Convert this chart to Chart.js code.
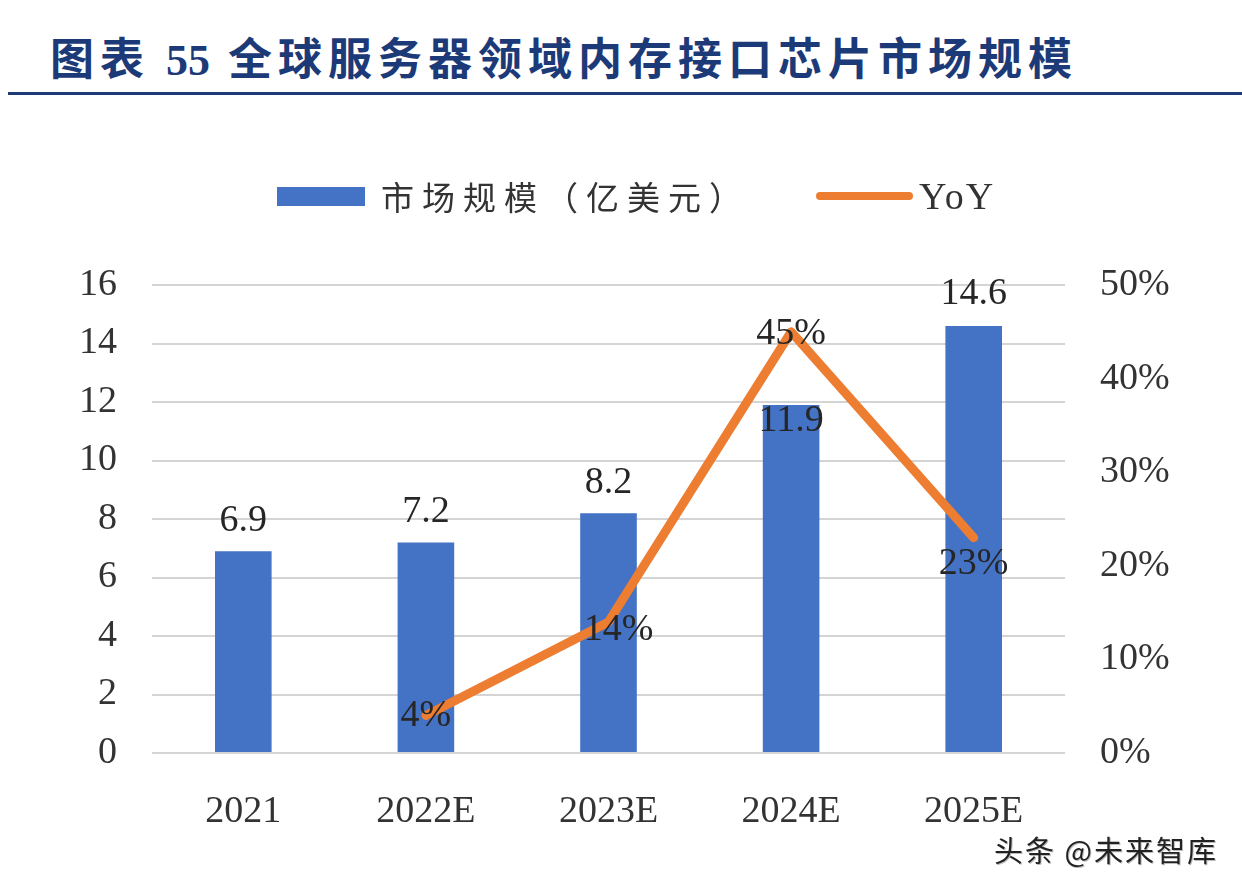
<!DOCTYPE html>
<html>
<head>
<meta charset="utf-8">
<script src="https://cdn.jsdelivr.net/npm/chart.js@4"></script>
<style>
  html, body { margin: 0; padding: 0; background: #fff; }
  body { width: 1242px; height: 888px; position: relative; overflow: hidden; }
  .title {
    position: absolute; left: 50px; top: 24px;
    font-family: "Noto Sans CJK SC", sans-serif; font-weight: 700;
    font-size: 44px; color: #1d3a78; letter-spacing: 6px; white-space: nowrap;
  }
  .title .num { font-family: "Liberation Serif", serif; margin: 0 18px 0 16px; letter-spacing: 0; }
  .rule { position: absolute; left: 8px; right: 0; top: 92px; height: 3px; background: #1d3a78; }
  .legend {
    position: absolute; top: 174px; left: 277px; height: 44px;
    display: flex; align-items: center; white-space: nowrap;
    font-family: "Noto Sans CJK SC", sans-serif; font-size: 33px; color: #333;
  }
  .legend .lab { letter-spacing: 8px; }
  .legend .box { width: 88px; height: 19px; background: #4472c4; margin-right: 16px; }
  .legend .ln { width: 97px; height: 8px; border-radius: 4px; background: #ed7d31; margin: 0 6px 0 66px; }
  .legend .yoy { font-family: "Liberation Serif", serif; font-size: 38px; letter-spacing: 2px; }
  .wrap { position: absolute; left: 0; top: 110px; width: 1242px; height: 778px; }
  .mark {
    position: absolute; right: 24px; top: 828px; letter-spacing: 2px;
    font-family: "Noto Sans CJK SC", sans-serif; font-size: 29px; color: #222;
    text-shadow: 1px 1px 0 #bbb;
  }
</style>
</head>
<body>
<div class="title">图表<span class="num">55</span>全球服务器领域内存接口芯片市场规模</div>
<div class="rule"></div>
<div class="wrap"><canvas id="myChart"></canvas></div>
<div class="legend">
  <div class="box"></div><span class="lab">市场规模（亿美元）</span>
  <div class="ln"></div><span class="yoy">YoY</span>
</div>
<div class="mark">头条 @未来智库</div>
<script>
let years = ["2021", "2022E", "2023E", "2024E", "2025E"];
let marketSize = [6.9, 7.2, 8.2, 11.9, 14.6];
let yoy = [null, 0.04, 0.14, 0.45, 0.23];
let yoyLabels = ["", "4%", "14%", "45%", "23%"];

let serif = "'Liberation Serif', 'Times New Roman', serif";

// value labels on bars and line points
let labelPlugin = {
  id: "labels",
  afterDatasetsDraw(chart) {
    let ctx = chart.ctx;
    ctx.save();
    ctx.font = "38px " + serif;
    ctx.fillStyle = "#262626";
    ctx.textAlign = "center";
    ctx.textBaseline = "middle";
    let barShift = [-30, -30, -30, 16, -32];
    chart.getDatasetMeta(1).data.forEach((bar, i) => {
      ctx.fillText(marketSize[i].toFixed(1), bar.x, bar.y + barShift[i]);
    });
    let shift = [[0, 0], [0, 0], [10, 8], [0, 2], [0, 26]];
    chart.getDatasetMeta(0).data.forEach((pt, i) => {
      if (!yoyLabels[i]) return;
      ctx.fillText(yoyLabels[i], pt.x + shift[i][0], pt.y + shift[i][1]);
    });
    ctx.restore();
  }
};

let chart = new Chart(document.getElementById("myChart"), {
  type: "bar",
  data: {
    labels: years,
    datasets: [
      {
        type: "line",
        label: "YoY",
        data: yoy,
        yAxisID: "y1",
        borderColor: "#ed7d31",
        borderWidth: 9,
        pointRadius: 0,
        tension: 0,
        borderCapStyle: "round",
        borderJoinStyle: "round",
        order: 0
      },
      {
        label: "市场规模（亿美元）",
        data: marketSize,
        backgroundColor: "#4472c4",
        yAxisID: "y",
        barPercentage: 0.31,
        categoryPercentage: 1,
        order: 1
      }
    ]
  },
  options: {
    responsive: true,
    maintainAspectRatio: false,
    animation: false,
    layout: { padding: { top: 175, left: 0, right: 0, bottom: 0 } },
    plugins: { legend: { display: false }, tooltip: { enabled: false } },
    scales: {
      x: {
        grid: { display: false },
        border: { display: false },
        ticks: { color: "#333", font: { family: serif, size: 38 }, padding: 28 },
        afterFit: (s) => { s.height = 135; }
      },
      y: {
        position: "left",
        min: 0, max: 16,
        ticks: { stepSize: 2, color: "#333", font: { family: serif, size: 38 }, padding: 35 },
        grid: { color: "#d4d4d4", lineWidth: 2, drawTicks: false },
        border: { display: false },
        afterFit: (s) => { s.width = 152; }
      },
      y1: {
        position: "right",
        min: 0, max: 0.5,
        ticks: {
          stepSize: 0.1, color: "#333", font: { family: serif, size: 38 }, padding: 35,
          callback: (v) => Math.round(v * 100) + "%"
        },
        grid: { display: false, drawTicks: false },
        border: { display: false },
        afterFit: (s) => { s.width = 177; }
      }
    }
  },
  plugins: [labelPlugin]
});
</script>
</body>
</html>
